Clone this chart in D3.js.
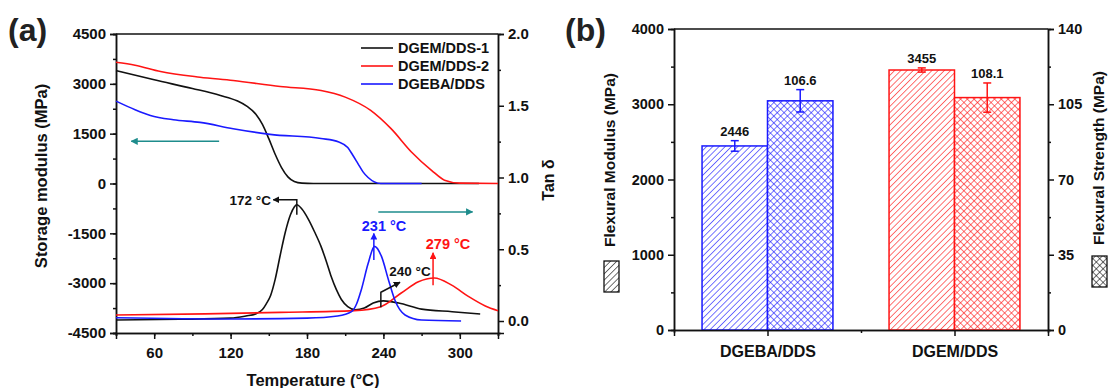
<!DOCTYPE html>
<html>
<head>
<meta charset="utf-8">
<script src="https://cdn.jsdelivr.net/npm/d3@7"></script>
<style>
  body { margin: 0; background: #fff; }
  svg { font-family: "Liberation Sans", Arial, sans-serif; font-weight: bold; }
</style>
</head>
<body>
<svg id="chart" width="1108" height="388"></svg>
<script>
// ---- data, panel (a): DMA curves [temperature, value] ----
var storageBlack = [[30,3400],[60,3120],[90,2860],[112,2650],[125,2490],[133,2320],[140,2080],[145,1780],[150,1350],[155,880],[160,480],[165,200],[170,60],[176,10],[185,0],[250,0],[315,0]];
var storageRed = [[30,3650],[45,3560],[65,3370],[96,3200],[122,3100],[159,2920],[191,2800],[210,2600],[230,2200],[246,1650],[262,950],[278,390],[288,100],[300,10],[330,0]];
var storageBlue = [[30,2480],[45,2220],[57,2050],[75,1920],[96,1840],[122,1650],[151,1480],[191,1355],[205,1250],[212,1085],[216,850],[220,600],[224,350],[228,180],[238,0],[270,0]];

var tanBlack = [[30,0.007],[80,0.012],[120,0.02],[132,0.035],[140,0.05],[145,0.08],[148,0.12],[151.5,0.18],[155,0.29],[159,0.46],[163,0.62],[167,0.74],[170,0.795],[172,0.81],[176,0.78],[181,0.71],[186,0.62],[191,0.52],[195,0.42],[199,0.31],[203,0.22],[207,0.15],[212,0.1],[218,0.078],[225,0.09],[232,0.125],[240,0.14],[252,0.125],[270,0.083],[294,0.065],[316,0.049]];
var tanRed = [[30,0.042],[100,0.05],[159,0.06],[217,0.072],[238,0.1],[254,0.195],[267.5,0.274],[280,0.3],[293.6,0.25],[307,0.17],[320,0.105],[330,0.072]];
var tanBlue = [[30,0.023],[120,0.014],[180,0.02],[204,0.035],[215,0.065],[219,0.12],[222.6,0.216],[228,0.4],[233,0.52],[238.5,0.45],[244,0.286],[249,0.146],[257,0.042],[270,0.007],[301,0.0]];

var legendNames = ["DGEM/DDS-1", "DGEM/DDS-2", "DGEBA/DDS"];
var seriesColors = ["#111111", "#ff1414", "#1a1aff"];

var xTicksA = [60, 120, 180, 240, 300];
var leftTicksA = [-4500, -3000, -1500, 0, 1500, 3000, 4500];
var rightTicksA = [0.0, 0.5, 1.0, 1.5, 2.0];

// ---- data, panel (b): flexural properties ----
var categories = ["DGEBA/DDS", "DGEM/DDS"];
var modulus = [2446, 3455];
var modulusErr = [70, 28];
var strength = [106.6, 108.1];
var strengthErr = [5.2, 6.8];
var barColors = ["#1a1aff", "#ff1414"];
var leftTicksB = [0, 1000, 2000, 3000, 4000];
var rightTicksB = [0, 35, 70, 105, 140];

var svg = d3.select("#chart");
var defs = svg.append("defs");
var intFmt = function(d) { return String(d); };   // plain hyphen for negatives

// arrow markers
function marker(id, color) {
  defs.append("marker").attr("id", id)
    .attr("viewBox", "0 0 10 10").attr("refX", 9).attr("refY", 5)
    .attr("markerWidth", 4.5).attr("markerHeight", 4.5)
    .attr("orient", "auto")
    .append("path").attr("d", "M0,0L10,5L0,10z").attr("fill", color);
}
marker("arBlack", "#111");
marker("arRed", "#ff1414");
marker("arBlue", "#1a1aff");
marker("arTeal", "#1e8c8c");

// hatch patterns
function hatch(id, color, cross) {
  var p = defs.append("pattern").attr("id", id)
    .attr("patternUnits", "userSpaceOnUse")
    .attr("width", cross ? 4.8 : 4.4).attr("height", cross ? 4.8 : 4.4)
    .attr("patternTransform", "rotate(45)");
  p.append("rect").attr("width", 10).attr("height", 10).attr("fill", "#fff");
  p.append("line").attr("x1", 0).attr("y1", -1).attr("x2", 0).attr("y2", 10)
    .attr("stroke", color).attr("stroke-width", 1.2);
  if (cross) p.append("line").attr("x1", -1).attr("y1", 0).attr("x2", 10).attr("y2", 0)
    .attr("stroke", color).attr("stroke-width", 1.2);
}
hatch("hBlue", barColors[0], false);
hatch("hRed", barColors[1], false);
hatch("cBlue", barColors[0], true);
hatch("cRed", barColors[1], true);
hatch("hBlack", "#111", false);
hatch("cBlack", "#111", true);

// ================= panel (a) =================
var xA = d3.scaleLinear().domain([30, 330]).range([116, 498]);
var yL = d3.scaleLinear().domain([-4500, 4500]).range([333, 34]);
var yR = d3.scaleLinear().domain([-0.0836, 2.0]).range([333, 34]);

var gA = svg.append("g");

function styleAxis(g, size) {
  g.selectAll("path.domain").attr("stroke", "#111").attr("stroke-width", 1.5);
  g.selectAll("line").attr("stroke", "#111").attr("stroke-width", 1.5);
  g.selectAll("text").attr("font-size", size).attr("font-weight", "bold")
    .attr("font-family", "Liberation Sans, Arial, sans-serif").attr("fill", "#111");
}

function minor(scale, step) {
  var d = scale.domain(), out = [];
  for (var v = d[0]; v <= d[1] + 1e-9; v += step) out.push(v);
  return out;
}

// minor ticks
gA.append("g").attr("transform", "translate(0,333)")
  .call(d3.axisBottom(xA).tickValues(minor(xA, 30)).tickSize(3).tickFormat(""))
  .call(styleAxis, 15);
gA.append("g").attr("transform", "translate(116,0)")
  .call(d3.axisLeft(yL).tickValues(minor(yL, 750)).tickSize(3).tickFormat(""))
  .call(styleAxis, 15);
gA.append("g").attr("transform", "translate(498,0)")
  .call(d3.axisRight(yR).tickValues([0.25, 0.75, 1.25, 1.75]).tickSize(3).tickFormat(""))
  .call(styleAxis, 15);

// major ticks
gA.append("g").attr("transform", "translate(0,333)")
  .call(d3.axisBottom(xA).tickValues(xTicksA).tickSize(6).tickPadding(8).tickFormat(intFmt))
  .call(styleAxis, 15);
gA.append("g").attr("transform", "translate(116,0)")
  .call(d3.axisLeft(yL).tickValues(leftTicksA).tickSize(6).tickPadding(4).tickFormat(intFmt))
  .call(styleAxis, 15);
gA.append("g").attr("transform", "translate(498,0)")
  .call(d3.axisRight(yR).tickValues(rightTicksA).tickSize(6).tickPadding(4).tickFormat(d3.format(".1f")))
  .call(styleAxis, 15);
gA.append("line").attr("x1", 116).attr("x2", 498).attr("y1", 34).attr("y2", 34)
  .attr("stroke", "#111").attr("stroke-width", 1.5);

// curves
var lineL = d3.line().x(function(d) { return xA(d[0]); }).y(function(d) { return yL(d[1]); }).curve(d3.curveMonotoneX);
var lineR = d3.line().x(function(d) { return xA(d[0]); }).y(function(d) { return yR(d[1]); }).curve(d3.curveMonotoneX);

[storageBlack, storageRed, storageBlue].forEach(function(s, i) {
  gA.append("path").attr("d", lineL(s)).attr("fill", "none")
    .attr("stroke", seriesColors[i]).attr("stroke-width", 1.6);
});
[tanBlack, tanRed, tanBlue].forEach(function(s, i) {
  gA.append("path").attr("d", lineR(s)).attr("fill", "none")
    .attr("stroke", seriesColors[i]).attr("stroke-width", 1.6);
});

// legend
legendNames.forEach(function(n, i) {
  var y = 48 + i * 18;
  gA.append("line").attr("x1", 361).attr("x2", 393).attr("y1", y).attr("y2", y)
    .attr("stroke", seriesColors[i]).attr("stroke-width", 1.6);
  gA.append("text").attr("x", 398).attr("y", y + 5).attr("font-size", 14.5).attr("fill", "#111").text(n);
});

// peak annotations (temperature, tan delta)
function arrow(pts, col, mk) {
  gA.append("path").attr("d", d3.line()(pts)).attr("fill", "none")
    .attr("stroke", col).attr("stroke-width", 1.5).attr("marker-end", "url(#" + mk + ")");
}
arrow([[xA(172), yR(0.74)], [xA(172), yR(0.845)], [xA(153.5), yR(0.845)]], "#111", "arBlack");
gA.append("text").attr("x", 271).attr("y", 205).attr("text-anchor", "end").attr("font-size", 13.5).attr("fill", "#111").text("172 °C");

arrow([[xA(232.5), yR(0.425)], [xA(232.5), yR(0.61)]], barColors[0], "arBlue");
gA.append("text").attr("x", 384).attr("y", 231).attr("text-anchor", "middle").attr("font-size", 14.5).attr("fill", barColors[0]).text("231 °C");

arrow([[xA(279), yR(0.25)], [xA(279), yR(0.475)]], barColors[1], "arRed");
gA.append("text").attr("x", 448).attr("y", 249).attr("text-anchor", "middle").attr("font-size", 14.5).attr("fill", barColors[1]).text("279 °C");

arrow([[xA(238), yR(0.095)], [xA(238), yR(0.2)], [xA(253), yR(0.27)]], "#111", "arBlack");
gA.append("text").attr("x", 410).attr("y", 276).attr("text-anchor", "middle").attr("font-size", 13.5).attr("fill", "#111").text("240 °C");

// direction arrows
gA.append("line").attr("x1", xA(111)).attr("x2", xA(42)).attr("y1", yL(1270)).attr("y2", yL(1270))
  .attr("stroke", "#1e8c8c").attr("stroke-width", 1.6).attr("marker-end", "url(#arTeal)");
gA.append("line").attr("x1", xA(236)).attr("x2", xA(310)).attr("y1", yR(0.76)).attr("y2", yR(0.76))
  .attr("stroke", "#1e8c8c").attr("stroke-width", 1.6).attr("marker-end", "url(#arTeal)");

// titles
svg.append("text").attr("x", 8).attr("y", 41).attr("font-size", 32).attr("fill", "#222").text("(a)");
svg.append("text").attr("x", 313).attr("y", 386).attr("text-anchor", "middle").attr("font-size", 16.5).attr("fill", "#111").text("Temperature (°C)");
svg.append("text").attr("transform", "translate(47,176) rotate(-90)").attr("text-anchor", "middle").attr("font-size", 16.5).attr("fill", "#111").text("Storage modulus (MPa)");
svg.append("text").attr("transform", "translate(554,180) rotate(-90)").attr("text-anchor", "middle").attr("font-size", 16).attr("fill", "#111").text("Tan δ");

// ================= panel (b) =================
var xB = d3.scaleLinear().domain([0.5, 2.5]).range([674, 1048]);
var yB = d3.scaleLinear().domain([0, 4000]).range([330, 29]);
var yS = d3.scaleLinear().domain([0, 140]).range([330, 29]);
var bw = 0.35;

var gB = svg.append("g");

gB.append("g").attr("transform", "translate(0,330)")
  .call(d3.axisBottom(xB).tickValues([1.5]).tickSize(3).tickFormat(""))
  .call(styleAxis, 14);
gB.append("g").attr("transform", "translate(674,0)")
  .call(d3.axisLeft(yB).tickValues([500, 1500, 2500, 3500]).tickSize(3).tickFormat(""))
  .call(styleAxis, 14);
gB.append("g").attr("transform", "translate(1048,0)")
  .call(d3.axisRight(yS).tickValues([17.5, 52.5, 87.5, 122.5]).tickSize(3).tickFormat(""))
  .call(styleAxis, 14);

// bars
categories.forEach(function(c, i) {
  var cx = i + 1;
  gB.append("rect").attr("x", xB(cx - bw)).attr("y", yB(modulus[i]))
    .attr("width", xB(cx) - xB(cx - bw)).attr("height", yB(0) - yB(modulus[i]))
    .attr("fill", "url(#" + (i ? "hRed" : "hBlue") + ")").attr("stroke", barColors[i]).attr("stroke-width", 1.5);
  gB.append("rect").attr("x", xB(cx)).attr("y", yS(strength[i]))
    .attr("width", xB(cx + bw) - xB(cx)).attr("height", yS(0) - yS(strength[i]))
    .attr("fill", "url(#" + (i ? "cRed" : "cBlue") + ")").attr("stroke", barColors[i]).attr("stroke-width", 1.5);

  // error bars
  var mx = xB(cx - bw / 2), sx = xB(cx + bw / 2);
  [[mx, yB(modulus[i] + modulusErr[i]), yB(modulus[i] - modulusErr[i])],
   [sx, yS(strength[i] + strengthErr[i]), yS(strength[i] - strengthErr[i])]].forEach(function(e) {
    gB.append("line").attr("x1", e[0]).attr("x2", e[0]).attr("y1", e[1]).attr("y2", e[2])
      .attr("stroke", barColors[i]).attr("stroke-width", 1.5);
    gB.append("line").attr("x1", e[0] - 4).attr("x2", e[0] + 4).attr("y1", e[1]).attr("y2", e[1])
      .attr("stroke", barColors[i]).attr("stroke-width", 1.5);
    gB.append("line").attr("x1", e[0] - 4).attr("x2", e[0] + 4).attr("y1", e[2]).attr("y2", e[2])
      .attr("stroke", barColors[i]).attr("stroke-width", 1.5);
  });

  gB.append("text").attr("x", mx).attr("y", yB(modulus[i] + modulusErr[i]) - 5)
    .attr("text-anchor", "middle").attr("font-size", 13).attr("fill", "#111").text(modulus[i]);
  gB.append("text").attr("x", sx).attr("y", yS(strength[i] + strengthErr[i]) - 5)
    .attr("text-anchor", "middle").attr("font-size", 13).attr("fill", "#111").text(d3.format(".1f")(strength[i]));
});

// main axes on top of bars
gB.append("g").attr("transform", "translate(0,330)")
  .call(d3.axisBottom(xB).tickValues([1, 2]).tickSize(6).tickPadding(10)
    .tickFormat(function(d) { return categories[d - 1]; }))
  .call(styleAxis, 16);
gB.append("g").attr("transform", "translate(674,0)")
  .call(d3.axisLeft(yB).tickValues(leftTicksB).tickSize(6).tickPadding(4).tickFormat(intFmt))
  .call(styleAxis, 14.5);
gB.append("g").attr("transform", "translate(1048,0)")
  .call(d3.axisRight(yS).tickValues(rightTicksB).tickSize(6).tickPadding(4).tickFormat(intFmt))
  .call(styleAxis, 14.5);
gB.append("line").attr("x1", 674).attr("x2", 1048).attr("y1", 29).attr("y2", 29)
  .attr("stroke", "#111").attr("stroke-width", 1.5);

// titles with pattern keys
svg.append("text").attr("x", 565).attr("y", 41).attr("font-size", 32).attr("fill", "#222").text("(b)");
svg.append("text").attr("transform", "translate(615,160) rotate(-90)").attr("text-anchor", "middle")
  .attr("font-size", 15.5).attr("fill", "#111").text("Flexural Modulus (MPa)");
svg.append("rect").attr("x", 604).attr("y", 261).attr("width", 15).attr("height", 31)
  .attr("fill", "url(#hBlack)").attr("stroke", "#111").attr("stroke-width", 1.3);
svg.append("text").attr("transform", "translate(1104,158) rotate(-90)").attr("text-anchor", "middle")
  .attr("font-size", 15.5).attr("fill", "#111").text("Flexural Strength (MPa)");
svg.append("rect").attr("x", 1092).attr("y", 256).attr("width", 15).attr("height", 31)
  .attr("fill", "url(#cBlack)").attr("stroke", "#111").attr("stroke-width", 1.3);
</script>
</body>
</html>
